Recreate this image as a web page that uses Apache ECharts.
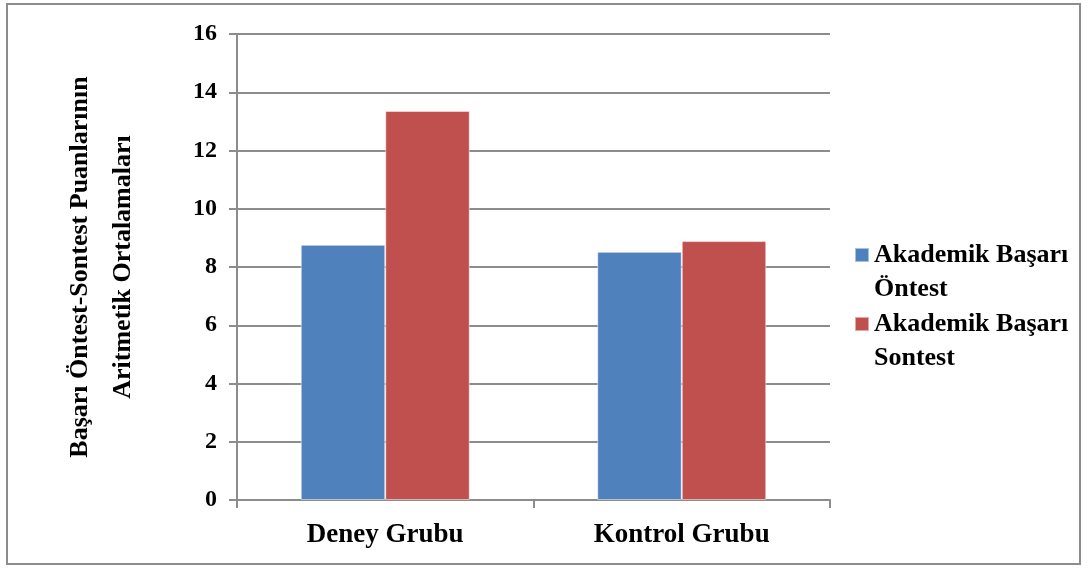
<!DOCTYPE html>
<html>
<head>
<meta charset="utf-8">
<script src="https://cdn.jsdelivr.net/npm/echarts@6/dist/echarts.min.js"></script>
<style>
  html, body { margin: 0; padding: 0; background: #fff; }
  #main { width: 1089px; height: 569px; }
</style>
</head>
<body>
<div id="main"></div>
<script>
// veriler
const categories = ['Deney Grubu', 'Kontrol Grubu']
const seriesNames = ['Akademik Başarı Öntest', 'Akademik Başarı Sontest']
// ilk satır boş: simge ilk metin satırıyla hizalansın
const legendLabels = [' \nAkademik Başarı\nÖntest', ' \nAkademik Başarı\nSontest']
const pretest = [8.76, 8.52]
const posttest = [13.36, 8.89]
const yTicks = [0, 2, 4, 6, 8, 10, 12, 14, 16]

const font = '"Liberation Serif", "Times New Roman", serif'
const gridColor = '#8c8c8c'

const myChart = echarts.init(document.getElementById('main'))
myChart.setOption({
  animation: false,
  color: ['#4F81BD', '#C0504D'],
  textStyle: { fontFamily: font },
  graphic: [
    {
      type: 'rect',
      shape: { x: 7, y: 4, width: 1073, height: 560 },
      style: { fill: 'none', stroke: '#8c8c8c', lineWidth: 2 }
    }
  ],
  legend: {
    orient: 'vertical',
    left: 849,
    top: 199,
    itemWidth: 14,
    itemHeight: 14,
    itemGap: -33,
    icon: 'rect',
    data: seriesNames,
    formatter: name => legendLabels[seriesNames.indexOf(name)],
    textStyle: {
      fontFamily: font,
      fontWeight: 'bold',
      fontSize: 26,
      color: '#000',
      lineHeight: 34
    }
  },
  grid: {
    left: 237,
    right: 259,
    top: 34,
    bottom: 69
  },
  xAxis: {
    type: 'category',
    data: categories,
    axisLine: { lineStyle: { color: gridColor, width: 2 } },
    axisTick: { show: true, length: 8, lineStyle: { color: gridColor, width: 2 } },
    axisLabel: {
      margin: 22,
      fontFamily: font,
      fontWeight: 'bold',
      fontSize: 27,
      color: '#000'
    }
  },
  yAxis: {
    type: 'value',
    min: 0,
    max: 16,
    interval: 2,
    name: 'Başarı Öntest-Sontest Puanlarının\nAritmetik Ortalamaları',
    nameLocation: 'middle',
    nameRotate: 90,
    nameGap: 92,
    nameTextStyle: {
      fontFamily: font,
      fontWeight: 'bold',
      fontSize: 26,
      color: '#000',
      lineHeight: 43
    },
    axisLine: { show: true, lineStyle: { color: gridColor, width: 2 } },
    axisTick: { show: true, length: 8, lineStyle: { color: gridColor, width: 2 } },
    splitLine: { show: true, lineStyle: { color: gridColor, width: 2 } },
    axisLabel: {
      margin: 20,
      fontFamily: font,
      fontWeight: 'bold',
      fontSize: 24,
      color: '#000',
      formatter: v => (yTicks.indexOf(v) >= 0 ? String(v) : '')
    }
  },
  series: [
    {
      name: seriesNames[0],
      type: 'bar',
      data: pretest,
      barGap: '0%',
      barCategoryGap: '43%',
      itemStyle: { borderColor: 'rgba(255,255,255,0.5)', borderWidth: 1 }
    },
    {
      name: seriesNames[1],
      type: 'bar',
      data: posttest,
      itemStyle: { borderColor: 'rgba(255,255,255,0.5)', borderWidth: 1 }
    }
  ]
})
window.addEventListener('resize', () => {
  myChart.resize()
})
</script>
</body>
</html>
